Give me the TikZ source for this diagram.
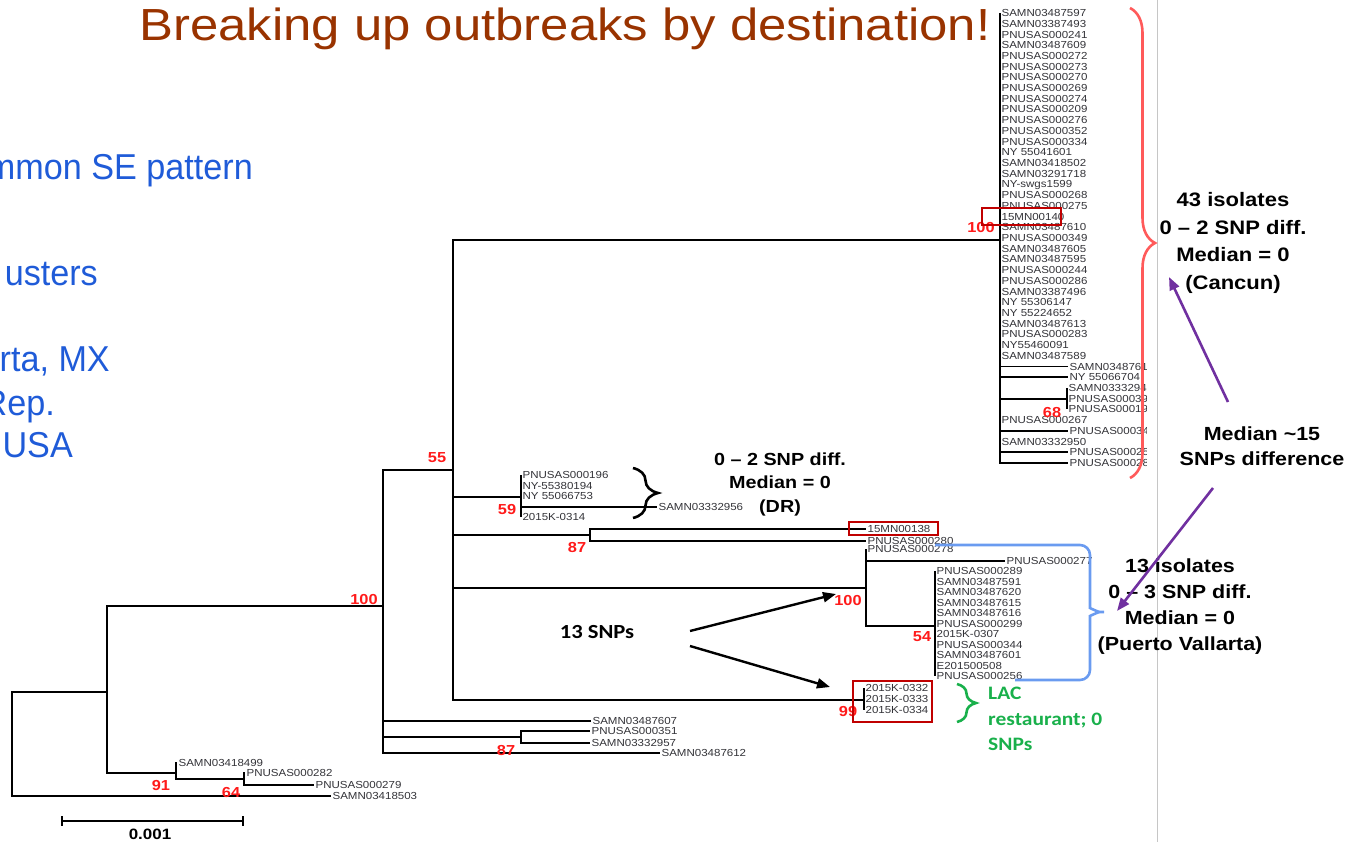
\documentclass[tikz,border=0pt]{standalone}
\usepackage{fontspec}
\setmainfont{Liberation Sans}
\newfontfamily\calibrifont{Carlito}
\usetikzlibrary{arrows.meta,decorations.pathreplacing}

\definecolor{titlebrown}{HTML}{993300}
\definecolor{slideblue}{HTML}{1F5BD8}
\definecolor{bootred}{HTML}{FF1A1A}
\definecolor{boxred}{HTML}{C00000}
\definecolor{bracered}{HTML}{FF5A5A}
\definecolor{braceblue}{HTML}{6A9BF0}
\definecolor{lacgreen}{HTML}{19B04B}
\definecolor{arrowpurple}{HTML}{7030A0}
\definecolor{leafgray}{HTML}{333338}

\begin{document}
\begin{tikzpicture}[x=1pt,y=-1pt,
    every node/.append style={xscale=1.13},
    brline/.style={line width=1.7pt},
    leaf/.style={anchor=west,inner sep=1.2pt,text=leafgray,font=\fontsize{10.2}{10}\selectfont,text height=7.2pt,text depth=0pt},
    boot/.style={text=bootred,font=\bfseries\fontsize{14.5}{15}\selectfont,inner sep=0pt},
    note/.style={align=center,inner sep=0pt},
    hitbox/.style={draw=boxred,line width=2.2pt},
    slidetext/.style={anchor=base east,xscale=0.84,text=slideblue,font=\fontsize{36}{36}\selectfont,inner sep=0pt},
    bigarrow/.style={line width=2.4pt,-{Triangle[length=13pt,width=10pt]}}]
    \useasboundingbox (0,0) rectangle (1354,842);

    % slide title and the clipped bullet text
    \node[font=\fontsize{45}{45}\selectfont,text=titlebrown,anchor=base] (title) at (565,41) {Breaking up outbreaks by destination!};
    \begin{scope}
        \clip (0,0) rectangle (1354,842);
        \node[slidetext] (bulA) at (253,180) {mmon SE pattern};
        \node[slidetext] (bulB) at (98,285) {usters};
        \node[slidetext] (bulC) at (110,371) {rta, MX};
        \node[slidetext] (bulD) at (55,415) {Rep.};
        \node[slidetext] (bulE) at (73,457) {USA};
    \end{scope}

    \draw[gray!45,line width=0.8pt] (1157,0) -- (1157,842);

    % internal nodes of the tree
    \coordinate (root) at (12,744);
    \coordinate (nA) at (107,692);
    \coordinate (n91) at (176,773);
    \coordinate (n64) at (244,779);
    \coordinate (nB) at (383,606);
    \coordinate (n87b) at (521,737);
    \coordinate (n55) at (453,470);
    \coordinate (ncan) at (1000,240);
    \coordinate (n68) at (1067,399);
    \coordinate (n59) at (521,497);
    \coordinate (n87a) at (590,535);
    \coordinate (n100) at (866,588);
    \coordinate (n54) at (935,626);
    \coordinate (n99) at (864,700);

    % leaves
    \node[leaf] (s503) at (331,796) {SAMN03418503};
    \node[leaf] (s499) at (177,763) {SAMN03418499};
    \node[leaf] (p282) at (245,773) {PNUSAS000282};
    \node[leaf] (p279) at (314,785) {PNUSAS000279};
    \node[leaf] (s607) at (591,721) {SAMN03487607};
    \node[leaf] (p351) at (590,731) {PNUSAS000351};
    \node[leaf] (s957) at (590,743) {SAMN03332957};
    \node[leaf] (s612) at (660,753) {SAMN03487612};

    \node[leaf] (p196) at (521,475) {PNUSAS000196};
    \node[leaf] (ny194) at (521,486) {NY-55380194};
    \node[leaf] (ny753) at (521,496) {NY 55066753};
    \node[leaf] (k314) at (521,517) {2015K-0314};
    \node[leaf] (s956) at (657,507) {SAMN03332956};

    \node[leaf] (mn138) at (866,529) {15MN00138};
    \node[leaf] (p280) at (866,541) {PNUSAS000280};

    \node[leaf] (p278) at (866,549) {PNUSAS000278};
    \node[leaf] (p277) at (1005,561) {PNUSAS000277};
    \foreach \name [count=\i] in {PNUSAS000289,SAMN03487591,SAMN03487620,SAMN03487615,SAMN03487616,PNUSAS000299,2015K-0307,PNUSAS000344,SAMN03487601,E201500508,PNUSAS000256}
        \node[leaf] (v\i) at (935,{571+(\i-1)*10.5}) {\name};
    \node[leaf] (k1) at (864,688) {2015K-0332};
    \node[leaf] (k2) at (864,699) {2015K-0333};
    \node[leaf] (k3) at (864,710) {2015K-0334};

    \foreach \name [count=\i] in {SAMN03487597,SAMN03387493,PNUSAS000241,SAMN03487609,PNUSAS000272,PNUSAS000273,PNUSAS000270,PNUSAS000269,PNUSAS000274,PNUSAS000209,PNUSAS000276,PNUSAS000352,PNUSAS000334,NY 55041601,SAMN03418502,SAMN03291718,NY-swgs1599,PNUSAS000268,PNUSAS000275,15MN00140,SAMN03487610,PNUSAS000349,SAMN03487605,SAMN03487595,PNUSAS000244,PNUSAS000286,SAMN03387496,NY 55306147,NY 55224652,SAMN03487613,PNUSAS000283,NY55460091,SAMN03487589}
        \node[leaf] (c\i) at (1000,{13+(\i-1)*10.71}) {\name};
    \begin{scope}
        \clip (990,355) rectangle (1146,475);
        \node[leaf] (c34) at (1068,366.4) {SAMN03487617};
        \node[leaf] (c35) at (1068,377.1) {NY 55066704};
        \node[leaf] (c36) at (1067,387.9) {SAMN03332947};
        \node[leaf] (c37) at (1067,398.6) {PNUSAS000399};
        \node[leaf] (c38) at (1067,409.3) {PNUSAS000193};
        \node[leaf] (c39) at (1000,420.0) {PNUSAS000267};
        \node[leaf] (c40) at (1068,430.7) {PNUSAS000348};
        \node[leaf] (c41) at (1000,441.4) {SAMN03332950};
        \node[leaf] (c42) at (1068,452.1) {PNUSAS000255};
        \node[leaf] (c43) at (1068,462.9) {PNUSAS000281};
    \end{scope}

    % branches
    \draw[brline] (root) |- (nA);
    \draw[brline] (root) |- (s503.west);
    \draw[brline] (nA) |- (nB);
    \draw[brline] (nA) |- (n91);
    \draw[brline] (n91) |- (s499.west);
    \draw[brline] (n91) |- (n64);
    \draw[brline] (n64) |- (p282.west);
    \draw[brline] (n64) |- (p279.west);

    \draw[brline] (nB) |- (n55);
    \draw[brline] (nB) |- (s607.west);
    \draw[brline] (nB) |- (n87b);
    \draw[brline] (nB) |- (s612.west);
    \draw[brline] (n87b) |- (p351.west);
    \draw[brline] (n87b) |- (s957.west);

    \draw[brline] (n55) |- (ncan);
    \draw[brline] (n55) |- (n59);
    \draw[brline] (n55) |- (n87a);
    \draw[brline] (n55) |- (n100);
    \draw[brline] (n55) |- (n99);

    \draw[brline] (ncan) |- (c1.west);
    \draw[brline] (ncan) |- (c43.west);
    \draw[brline] (ncan) |- (c34.west);
    \draw[brline] (ncan) |- (c35.west);
    \draw[brline] (ncan) |- (n68);
    \draw[brline] (ncan) |- (c40.west);
    \draw[brline] (ncan) |- (c42.west);
    \draw[brline] (n68) |- (c36.west);
    \draw[brline] (n68) |- (c38.west);

    \draw[brline] (n59) |- (p196.west);
    \draw[brline] (n59) |- (k314.west);
    \draw[brline] (n59) |- (s956.west);

    \draw[brline] (n87a) |- (mn138.west);
    \draw[brline] (n87a) |- (p280.west);

    \draw[brline] (n100) |- (p278.west);
    \draw[brline] (n100) |- (p277.west);
    \draw[brline] (n100) |- (n54);
    \draw[brline] (n54) |- (v1.west);
    \draw[brline] (n54) |- (v11.west);

    \draw[brline] (n99) |- (k1.west);
    \draw[brline] (n99) |- (k3.west);

    % bootstrap values
    \node[boot] (b100c) at (981,228) {100};
    \node[boot] (b68) at (1052,413) {68};
    \node[boot] (b55) at (437,458) {55};
    \node[boot] (b59) at (507,510) {59};
    \node[boot] (b87a) at (577,548) {87};
    \node[boot] (b100p) at (848,601) {100};
    \node[boot] (b54) at (922,637) {54};
    \node[boot] (b99) at (848,712) {99};
    \node[boot] (b100) at (364,600) {100};
    \node[boot] (b87b) at (506,751) {87};
    \node[boot] (b91) at (161,786) {91};
    \node[boot] (b64) at (231,793) {64};

    % highlighted isolates
    \draw[hitbox] (982,208) rectangle (1061,225);
    \draw[hitbox] (849,522) rectangle (938,535);
    \draw[hitbox] (853,681) rectangle (932,722);

    % scale bar
    \draw[brline] (62,816) -- (62,826) (62,821) -- (243,821) (243,816) -- (243,826);
    \node[font=\bfseries\fontsize{15}{15}\selectfont] (sbar) at (150,834) {0.001};

    % braces
    \draw[bracered,line width=2.6pt,decorate,decoration={brace,amplitude=25pt}] (1130,8) -- (1130,478);
    \draw[line width=2.6pt,decorate,decoration={brace,amplitude=25pt}] (633,468) -- (633,518);
    \draw[lacgreen,line width=2.6pt,decorate,decoration={brace,amplitude=19pt}] (957,684) -- (957,722);
    \draw[braceblue,line width=2.6pt,rounded corners=10pt] (935,545) -| (1090,598)
        .. controls (1090,608) and (1098,612) .. (1110,612)
        .. controls (1098,612) and (1090,616) .. (1090,626) |- (1015,680);

    % annotations
    \node[note,font=\bfseries\fontsize{17.5}{23.5}\selectfont] (drnote) at (780,484) {0 – 2 SNP diff.\\Median = 0\\(DR)};
    \node[note,font=\bfseries\fontsize{19.5}{27.5}\selectfont] (cannote) at (1233,243) {43 isolates\\0 – 2 SNP diff.\\Median = 0\\(Cancun)};
    \node[note,font=\bfseries\fontsize{19}{25}\selectfont] (mednote) at (1262,446) {Median \textasciitilde15\\SNPs difference};
    \node[note,font=\bfseries\fontsize{19}{26}\selectfont] (pvnote) at (1180,607) {13 isolates\\0 – 3 SNP diff.\\Median = 0\\(Puerto Vallarta)};
    \node[anchor=west,align=left,inner sep=0pt,text=lacgreen,font=\calibrifont\bfseries\fontsize{19}{25.5}\selectfont] (lac) at (988,719) {LAC\\restaurant; 0\\SNPs};
    \node[font=\calibrifont\bfseries\fontsize{20}{20}\selectfont] (snp13) at (597,632) {13 SNPs};

    % arrows
    \coordinate (snpA) at (690,631);
    \coordinate (snpB) at (690,646);
    \coordinate (tipPV) at (836,594);
    \coordinate (tipLAC) at (830,687);
    \draw[bigarrow] (snpA) -- (tipPV);
    \draw[bigarrow] (snpB) -- (tipLAC);

    \coordinate (medUp) at (1228,402);
    \coordinate (medDown) at (1213,488);
    \coordinate (tipCan) at (1169,277);
    \coordinate (tipPVb) at (1117,611);
    \draw[arrowpurple,bigarrow,line width=2.6pt] (medUp) -- (tipCan);
    \draw[arrowpurple,bigarrow,line width=2.6pt] (medDown) -- (tipPVb);
\end{tikzpicture}
\end{document}
